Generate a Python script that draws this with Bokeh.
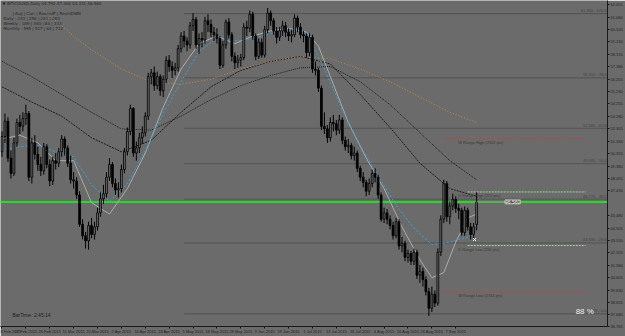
from bokeh.plotting import figure
from bokeh.models import Range1d, FixedTicker, Label, ColumnDataSource
from bokeh.embed import file_html
from bokeh.resources import INLINE

# ---------------- data ----------------
open_ = [50.5, 51.7, 52.9, 50.0, 48.8, 51.2, 52.8, 52.5, 53.1, 53.5, 48.5, 51.2, 50.3, 49.5, 49.0, 50.9,
         49.5, 48.2, 49.8, 49.6, 50.5, 51.5, 50.8, 49.6, 48.3, 48.2, 47.1, 44.8, 43.9, 43.5, 44.7, 44.0,
         44.6, 45.7, 46.8, 47.2, 48.5, 49.5, 48.0, 47.5, 47.6, 49.1, 50.5, 52.1, 53.9, 50.4, 50.8, 51.6,
         52.0, 53.3, 56.4, 56.7, 55.7, 56.4, 55.3, 56.2, 57.7, 57.2, 56.9, 57.1, 58.6, 59.6, 59.2, 58.9,
         60.4, 60.9, 58.9, 59.4, 59.3, 60.8, 60.5, 59.9, 59.7, 59.4, 57.3, 58.9, 60.7, 59.7, 58.0, 57.5,
         57.7, 57.9, 60.3, 60.2, 61.3, 59.6, 58.0, 59.1, 58.1, 60.1, 61.4, 60.8, 60.0, 59.5, 60.0, 60.4,
         59.9, 59.6, 59.7, 61.0, 60.3, 59.7, 59.6, 58.3, 59.5, 57.0, 56.9, 55.5, 52.5, 52.3, 51.6, 52.8,
         52.7, 52.2, 53.0, 51.4, 50.9, 51.0, 50.2, 50.4, 49.2, 48.5, 48.1, 47.4, 48.0, 48.8, 48.5, 47.1,
         45.2, 45.7, 45.2, 44.7, 43.9, 45.0, 43.1, 43.3, 42.2, 42.5, 41.9, 42.6, 40.8, 41.1, 40.45, 39.5,
         38.2, 39.3, 38.6, 42.6, 45.2, 48.0, 45.4, 46.25, 46.75, 46.05, 45.9, 44.15, 45.9, 44.6, 44.0, 44.79]
high = [52.1, 53.5, 53.2, 50.6, 51.6, 53.1, 53.4, 53.6, 54.2, 53.7, 51.6, 51.8, 50.9, 50.1, 51.2, 51.1,
        49.9, 50.1, 50.4, 50.8, 51.8, 51.7, 51.0, 50.2, 48.9, 48.5, 47.4, 45.2, 44.2, 45.0, 45.3, 45.0,
        46.1, 47.3, 47.9, 48.9, 50.0, 49.7, 48.4, 48.1, 49.5, 50.8, 52.4, 54.2, 54.0, 51.3, 52.0, 52.5,
        53.6, 56.7, 57.0, 57.2, 56.8, 56.6, 56.5, 58.0, 58.1, 57.6, 57.5, 58.9, 59.9, 60.0, 59.5, 60.7,
        61.4, 61.1, 59.8, 59.9, 61.1, 61.3, 60.9, 60.3, 60.2, 59.6, 59.2, 60.9, 61.0, 59.9, 58.3, 58.1,
        58.2, 60.6, 60.8, 61.6, 61.5, 59.8, 59.4, 59.4, 60.4, 61.8, 61.6, 61.0, 60.3, 60.3, 60.8, 60.7,
        60.2, 60.1, 61.3, 61.2, 60.6, 60.0, 59.8, 59.8, 59.7, 57.6, 57.1, 55.7, 53.6, 52.6, 53.2, 53.4,
        53.0, 53.4, 53.2, 51.7, 51.5, 51.2, 50.9, 50.6, 49.4, 48.9, 48.3, 48.4, 49.1, 49.2, 48.7, 47.3,
        46.1, 46.0, 45.5, 45.0, 45.3, 45.2, 43.8, 43.5, 42.8, 42.7, 42.9, 42.8, 41.6, 41.4, 40.7, 39.8,
        39.9, 39.6, 42.9, 45.5, 48.3, 48.2, 46.6, 47.2, 47.0, 46.4, 46.1, 46.2, 46.1, 44.9, 44.9, 47.31]
low = [50.1, 51.2, 49.7, 48.4, 48.6, 50.9, 51.9, 52.1, 52.6, 48.2, 48.0, 49.9, 49.0, 48.6, 48.7, 49.2,
       47.8, 47.9, 49.1, 49.3, 50.1, 50.2, 49.3, 48.0, 47.6, 46.8, 44.6, 43.6, 42.9, 42.8, 43.7, 43.6,
       44.3, 45.4, 46.4, 46.9, 48.2, 47.7, 47.1, 46.9, 47.3, 48.8, 50.2, 51.8, 50.1, 49.8, 50.4, 51.1,
       51.7, 53.0, 55.8, 55.3, 55.4, 54.9, 54.8, 55.9, 56.8, 56.3, 56.5, 56.8, 58.3, 58.7, 58.4, 58.6,
       60.0, 58.6, 58.2, 58.7, 59.0, 59.9, 59.5, 59.2, 59.0, 57.0, 57.1, 58.6, 59.4, 57.6, 57.0, 57.1,
       57.2, 57.7, 59.6, 59.9, 59.3, 57.7, 57.8, 57.9, 57.9, 59.8, 60.4, 59.7, 59.0, 59.2, 59.6, 59.5,
       59.2, 59.1, 59.5, 59.9, 59.4, 59.1, 57.9, 58.0, 56.7, 56.5, 55.2, 52.2, 51.9, 51.2, 51.3, 52.1,
       51.8, 51.9, 51.1, 50.6, 50.4, 49.9, 49.8, 48.9, 48.2, 47.7, 47.0, 47.1, 47.7, 48.1, 46.8, 45.0,
       44.9, 44.8, 44.4, 43.6, 43.7, 42.8, 42.6, 41.9, 41.8, 41.6, 41.6, 40.5, 40.2, 39.9, 39.2, 37.6,
       37.9, 38.3, 38.4, 42.3, 44.9, 45.0, 44.8, 45.9, 45.7, 45.2, 43.9, 43.9, 44.3, 43.6, 43.7, 44.33]
close = [51.7, 52.9, 50.0, 48.8, 51.2, 52.8, 52.5, 53.1, 53.5, 48.5, 51.2, 50.3, 49.5, 49.0, 50.9, 49.5,
         48.2, 49.8, 49.6, 50.5, 51.5, 50.8, 49.6, 48.3, 48.2, 47.1, 44.8, 43.9, 43.5, 44.7, 44.0, 44.6,
         45.7, 46.8, 47.2, 48.5, 49.5, 48.0, 47.5, 47.6, 49.1, 50.5, 52.1, 53.9, 50.4, 50.8, 51.6, 52.0,
         53.3, 56.4, 56.7, 55.7, 56.4, 55.3, 56.2, 57.7, 57.2, 56.9, 57.1, 58.6, 59.6, 59.2, 58.9, 60.4,
         60.9, 58.9, 59.4, 59.3, 60.8, 60.5, 59.9, 59.7, 59.4, 57.3, 58.9, 60.7, 59.7, 58.0, 57.5, 57.7,
         57.9, 60.3, 60.2, 61.3, 59.6, 58.0, 59.1, 58.1, 60.1, 61.4, 60.8, 60.0, 59.5, 60.0, 60.4, 59.9,
         59.6, 59.7, 61.0, 60.3, 59.7, 59.6, 58.3, 59.5, 57.0, 56.9, 55.5, 52.5, 52.3, 51.6, 52.8, 52.7,
         52.2, 53.0, 51.4, 50.9, 51.0, 50.2, 50.4, 49.2, 48.5, 48.1, 47.4, 48.0, 48.8, 48.5, 47.1, 45.2,
         45.7, 45.2, 44.7, 43.9, 45.0, 43.1, 43.3, 42.2, 42.5, 41.9, 42.6, 40.8, 41.1, 40.45, 39.5, 38.2,
         39.3, 38.6, 42.6, 45.2, 48.0, 45.4, 46.25, 46.75, 46.05, 45.9, 44.15, 45.9, 44.6, 44.0, 44.6, 46.56]

date_tick_bars = [0, 8, 16, 24, 32, 40, 48, 56, 64, 72, 80, 88, 96, 104, 112, 120, 128, 136, 144, 152]
date_tick_labels = ["6 Feb 2015", "17 Feb 2015", "26 Feb 2015", "11 Mar 2015", "20 Mar 2015",
                    "2 Apr 2015", "14 Apr 2015", "24 Apr 2015", "5 May 2015", "18 May 2015",
                    "28 May 2015", "9 Jun 2015", "19 Jun 2015", "1 Jul 2015", "13 Jul 2015",
                    "23 Jul 2015", "4 Aug 2015", "14 Aug 2015", "26 Aug 2015", "7 Sep 2015"]
price_ticks = [36.765, 37.680, 38.655, 39.630, 40.605, 41.580, 42.555, 43.530, 44.505, 45.480,
               47.430, 48.405, 49.380, 50.355, 51.330, 52.305, 53.280, 54.255, 55.230, 56.205,
               57.180, 58.155, 59.130, 60.105, 61.080, 62.055]
current_price = 46.560

# moving-average style lines (bar index, price)
ma_bars = [0, 10, 20, 30, 40, 50, 60, 70, 80, 90, 100, 110, 120, 130, 140, 150, 159]
ma_slow = [57.6, 56.4, 55.0, 53.6, 52.3, 52.2, 53.3, 54.6, 55.7, 56.5, 57.1, 57.2, 56.0, 54.2, 52.0, 49.8, 48.3]
ma_fast = [55.6, 54.4, 53.3, 51.6, 50.5, 51.4, 53.6, 55.6, 56.9, 57.6, 58.0, 57.4, 55.0, 52.4, 49.6, 47.6, 47.0]
orange_bars = [14, 20, 25, 30, 40, 50, 60, 70, 80, 90, 100, 110, 120, 130, 140, 150, 159]
orange_ma = [61.6, 60.4, 59.4, 58.5, 57.0, 56.0, 55.8, 56.2, 57.0, 57.6, 58.0, 57.8, 57.0, 56.0, 54.8, 53.6, 52.8]
gray_bars = [0, 6, 12, 18, 24, 30, 36, 42, 48, 54, 60, 66, 72, 78, 84, 90, 96, 102, 106, 110, 116,
             122, 128, 134, 140, 144, 148, 152, 156, 159]
gray_ma = [51.5, 51.8, 51.2, 49.8, 49.8, 46.5, 45.6, 47.6, 50.4, 54.0, 57.0, 59.0, 59.6, 59.0, 59.6,
           60.0, 60.2, 59.9, 58.8, 56.4, 52.8, 50.0, 47.6, 44.6, 42.0, 40.6, 41.0, 43.4, 45.3, 45.6]
blue_bars = [0, 6, 12, 18, 24, 30, 36, 42, 48, 54, 60, 66, 72, 78, 84, 90, 96, 102, 108, 114, 120,
             126, 132, 138, 144, 150, 156, 159]
blue_ma = [50.6, 50.9, 51.0, 50.5, 50.1, 47.9, 46.6, 48.0, 50.6, 53.5, 56.0, 58.4, 59.4, 59.2, 59.4,
           59.8, 60.1, 59.9, 57.0, 53.8, 51.0, 48.6, 46.3, 44.5, 43.2, 43.4, 43.8, 44.1]

fib_pcts = ["0.0", "23.6", "38.2", "50.0", "61.8", "78.6", "100.0"]
fib_prices = [37.760, 43.330, 46.776, 49.560, 52.345, 56.310, 61.360]
fib_start_bar = 61

range_names = ["W Range High (2322 pts)", "D Range High (253 pts)", "D Range Low (250 pts)", "W Range Low (2741 pts)"]
range_prices = [51.54, 47.34, 43.13, 39.47]
range_colors = ["#b04a4a", "#9fd09f", "#9fd09f", "#b04a4a"]
range_start_bars = [148, 156, 156, 148]

# ---------------- layout ----------------
BG = "#6b6b6b"
FRAME_W, FRAME_H = 610, 329
BAR_PX = 3.0
PX_PER_PRICE = 12.84
x0 = -0.5
x1 = x0 + FRAME_W / BAR_PX
y0 = 36.765
y1 = y0 + FRAME_H / PX_PER_PRICE


def sx(px):
    return x0 + px / BAR_PX


def sy(py):
    return y1 - py / PX_PER_PRICE


p = figure(width=625, height=336, x_range=Range1d(x0, x1), y_range=Range1d(y0, y1),
           output_backend="svg", toolbar_location=None, y_axis_location="right",
           background_fill_color=BG, border_fill_color=BG, outline_line_color=None,
           min_border_left=0, min_border_top=0, min_border_right=15, min_border_bottom=7)
p.grid.visible = False

# axes
ax = p.xaxis[0]
ax.ticker = FixedTicker(ticks=date_tick_bars)
ax.major_label_overrides = {b: s for b, s in zip(date_tick_bars, date_tick_labels)}
ax.major_label_text_align = "left"
ax.major_label_text_font = "Liberation Sans"
ax.major_label_text_font_size = "4px"
ax.major_label_text_color = "#222222"
ax.major_label_standoff = 0
ax.major_tick_out = 2
ax.major_tick_in = 0
ax.minor_tick_out = 0
ax.minor_tick_in = 0
ax.axis_line_color = "#1a1a1a"
ax.major_tick_line_color = "#1a1a1a"

ay = p.yaxis[0]
ay.ticker = FixedTicker(ticks=price_ticks)
ay.major_label_overrides = {v: f"{v:.3f}" for v in price_ticks}
ay.major_label_text_font = "Liberation Sans"
ay.major_label_text_font_size = "4px"
ay.major_label_text_color = "#222222"
ay.major_label_standoff = 1
ay.major_tick_out = 2
ay.major_tick_in = 0
ay.minor_tick_out = 0
ay.minor_tick_in = 0
ay.axis_line_color = "#1a1a1a"
ay.major_tick_line_color = "#1a1a1a"

# fibonacci levels
for pct, pr in zip(fib_pcts, fib_prices):
    p.segment(x0=[fib_start_bar], y0=[pr], x1=[x1], y1=[pr], line_color="#535353", line_width=1)
    p.add_layout(Label(x=sx(609), y=pr, text=f"{pr:.3f} - {pct}", text_align="right",
                       text_baseline="bottom", text_font="Liberation Sans", text_font_size="4px",
                       text_color="#444444", y_offset=0.5))

# range lines
for name, pr, col, sb in zip(range_names, range_prices, range_colors, range_start_bars):
    p.segment(x0=[sb], y0=[pr], x1=[sx(588)], y1=[pr], line_color=col, line_width=1, line_dash="2 1")
    p.add_layout(Label(x=sx(460), y=pr, text=name, text_align="left", text_baseline="top",
                       text_font="Liberation Sans", text_font_size="4px", text_color="#3a3a3a",
                       y_offset=-1))

# current price line
p.segment(x0=[x0], y0=[current_price], x1=[x1], y1=[current_price], line_color="#22dd22", line_width=2)

# indicator lines
p.line(ma_bars, ma_slow, line_color="#1c1c1c", line_width=1, line_dash="1 1")
p.line(ma_bars, ma_fast, line_color="#1c1c1c", line_width=1, line_dash="2 1")
p.line(orange_bars, orange_ma, line_color="#c8843c", line_width=1, line_dash="1 2")
p.line(gray_bars, gray_ma, line_color="#ababab", line_width=1)
p.line(blue_bars, blue_ma, line_color="#2aa8e0", line_width=1, line_dash="2 2")

# candles
idx = list(range(len(close)))
up = [c >= o for o, c in zip(open_, close)]
src = ColumnDataSource(dict(
    x=idx, o=open_, h=high, l=low, c=close,
    top=[max(o, c) for o, c in zip(open_, close)],
    bot=[min(o, c) for o, c in zip(open_, close)],
    fill=[BG if u else "#000000" for u in up],
))
p.segment(x0="x", y0="h", x1="x", y1="l", source=src, line_color="#000000", line_width=1)
p.vbar(x="x", top="top", bottom="bot", width=0.62, source=src, fill_color="fill",
       line_color="#000000", line_width=0.8)

# trade marker
p.scatter(x=[158.3], y=[43.6], marker="x", size=4, line_color="#ffffff", line_width=1)

# price tag on the chart
p.segment(x0=[len(close) - 1], y0=[current_price], x1=[sx(506)], y1=[current_price],
          line_color="#8a8a8a", line_width=1)
p.add_layout(Label(x=sx(507), y=current_price, text=f"{current_price:.3f}", text_align="left",
                   text_baseline="middle", text_font="Liberation Sans", text_font_size="5px",
                   text_color="#e6e6e6", background_fill_color="#5a5a5a",
                   border_line_color="#b8b8b8", border_line_width=1))
# price tag on the axis
p.add_layout(Label(x=sx(611), y=current_price, text=f"{current_price:.3f}", text_align="left",
                   text_baseline="middle", text_font="Liberation Sans", text_font_size="4px",
                   text_color="#e8e8e8", background_fill_color="#333333"))

# texts
hdr = [("\u25bc WTICOUSD,Daily  44.792 47.308 44.331 46.560", 2, 1),
       ("| Avg | Curr | RoomUP | RoomDWN", 12, 11),
       ("Daily  : 233 | 256 | 241 | 283", 3, 16),
       ("Weekly : 189 | 363 | 84 | 333", 3, 21),
       ("Monthly : 595 | 517 | 64 | 712", 3, 26)]
for t, xx, yy in hdr:
    p.add_layout(Label(x=sx(xx), y=sy(yy), text=t, text_align="left", text_baseline="top",
                       text_font="DejaVu Sans", text_font_size="4px", text_color="#262626"))
p.add_layout(Label(x=sx(12), y=sy(317), text="BarTime:  2:45:14", text_align="left",
                   text_baseline="middle", text_font="Liberation Sans", text_font_size="5px",
                   text_color="#1e1e1e"))
p.add_layout(Label(x=sx(578), y=sy(314), text="88  %", text_align="left",
                   text_baseline="middle", text_font="Liberation Sans", text_font_size="8px",
                   text_color="#eeeeee"))

open("out.html", "w").write(file_html(p, INLINE))
